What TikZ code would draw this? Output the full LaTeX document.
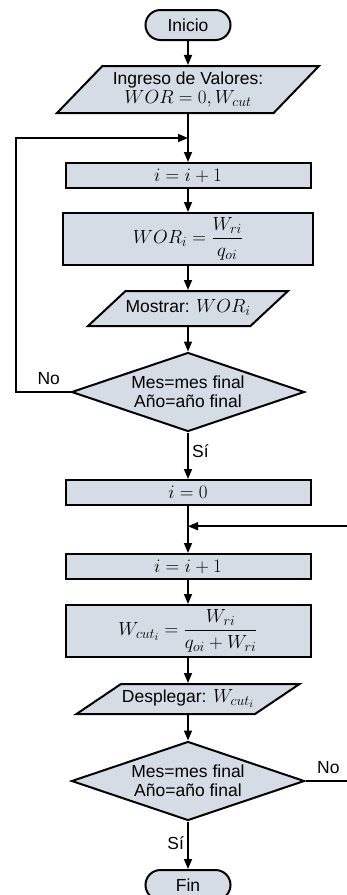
\RequirePackage{fix-cm}
\documentclass[tikz,border=0pt]{standalone}
\usepackage{amsmath}
\usepackage{fontspec}
\setmainfont{Liberation Sans}
\DeclareMathSizes{17.5}{19}{14}{11}
\usepackage{tikz}
\usetikzlibrary{shapes.geometric, shapes.misc, positioning, arrows.meta, calc}
\definecolor{boxfill}{RGB}{214,220,229}
\tikzset{>={Triangle[length=10pt,width=8pt]},
node distance=26pt, on grid,
every node/.style={font=\fontsize{17.5}{19}\selectfont},
base/.style={draw, line width=2pt, fill=boxfill, inner sep=1pt},
terminal/.style={base, rounded rectangle, minimum width=87pt, minimum height=30pt},
proc/.style={base, rectangle, minimum width=245pt, minimum height=25pt},
io/.style={base, trapezium, trapezium stretches body, align=center, inner xsep=0pt},
decision/.style={base, diamond, aspect=2.95, minimum width=233pt, minimum height=79pt, inner sep=0pt, align=center},
flow/.style={->, line width=1.6pt}
}

\begin{document}
\begin{tikzpicture}
\useasboundingbox (0,0) rectangle (347pt,-895pt);
\node[terminal] (inicio) at (188pt,-25pt) {Inicio};
\node[io, trapezium left angle=45, trapezium right angle=135, inner ysep=5pt, minimum width=262pt, minimum height=47pt, below=64.5pt of inicio] (ingreso) {Ingreso de Valores:\\ $WOR=0, W_{cut}$};
\node[proc, below=86pt of ingreso] (inc1) {$i=i+1$};
\node[proc, minimum width=250pt, minimum height=52pt, below=63.5pt of inc1] (calcwor) {$WOR_i=\dfrac{W_{ri}}{q_{oi}}$};
\node[io, trapezium left angle=43, trapezium right angle=137, text height=13pt, text depth=5pt, inner ysep=8.5pt, minimum width=191pt, minimum height=35pt, below=69.5pt of calcwor] (mostrar) {Mostrar: $WOR_i$};
\node[decision, below=83.5pt of mostrar] (fin1) {Mes=mes final\\Año=año final};
\node[proc, below=100.5pt of fin1] (reset) {$i=0$};
\node[proc, below=74pt of reset] (inc2) {$i=i+1$};
\node[proc, minimum height=52pt, below=64.5pt of inc2] (calcwcut) {$W_{cut_i}=\dfrac{W_{ri}}{q_{oi}+W_{ri}}$};
\node[io, trapezium left angle=34, trapezium right angle=146, text height=13pt, text depth=6pt, inner ysep=5.5pt, minimum width=223pt, minimum height=30pt, below=68pt of calcwcut] (desplegar) {Desplegar: $W_{cut_i}$};
\node[decision, below=82pt of desplegar] (fin2) {Mes=mes final\\Año=año final};
\node[terminal, below=104pt of fin2] (fin) {Fin};

\coordinate (join1) at ($(ingreso.south)!0.5!(inc1.north)$);
\coordinate (join2) at ($(reset.south)!0.43!(inc2.north)$);
\coordinate (leftrail) at (16pt,0);
\coordinate (rightrail) at (347pt,0);

\draw[flow] (inicio) -- (ingreso);
\draw[flow] (ingreso) -- (inc1);
\draw[flow] (inc1) -- (calcwor);
\draw[flow] (calcwor) -- (mostrar);
\draw[flow] (mostrar) -- (fin1);
\draw[flow] (fin1.west) -| node[pos=0.2, above=3pt]{No} (leftrail |- join1) -- (join1);
\draw[flow] (fin1) -- node[right, pos=0.4]{Sí} (reset);
\draw[flow] (reset) -- (inc2);
\draw[flow] (rightrail |- join2) -- (join2);
\draw[flow] (inc2) -- (calcwcut);
\draw[flow] (calcwcut) -- (desplegar);
\draw[flow] (desplegar) -- (fin2);
\draw[line width=1.6pt] (fin2.east) -- node[pos=0.55, above=3pt]{No} (fin2.east -| rightrail);
\draw[flow] (fin2) -- node[left, pos=0.45]{Sí} (fin);
\end{tikzpicture}
\end{document}
